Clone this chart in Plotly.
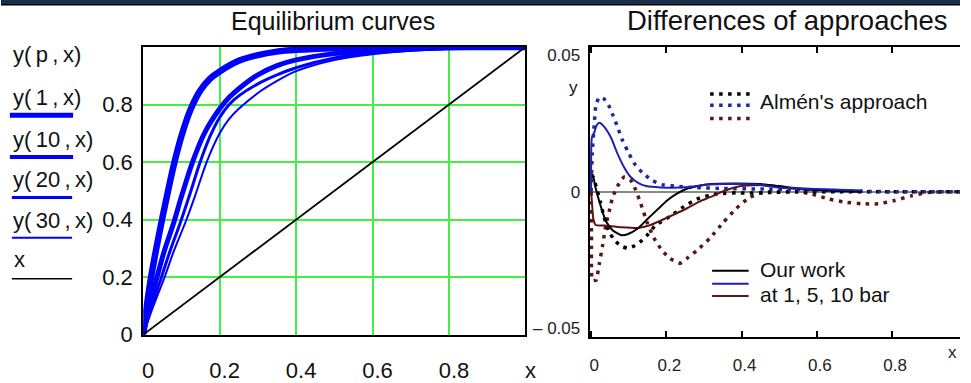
import plotly.graph_objects as go

W, H = 971, 383
def PX(x): return x / W
def PY(y): return 1 - y / H

# ---------------- Left chart data (equilibrium curves) ----------------
x_p1 = [0, 0.01, 0.02, 0.035, 0.05, 0.065, 0.08, 0.1, 0.12, 0.135, 0.15, 0.175, 0.2, 0.25, 0.3, 0.35, 0.4, 0.5, 0.6, 0.8, 1.0]
y_p1 = [0, 0.105, 0.195, 0.305, 0.405, 0.5, 0.59, 0.69, 0.77, 0.815, 0.85, 0.89, 0.915, 0.952, 0.972, 0.984, 0.99, 0.996, 0.998, 1.0, 1.0]
x_p10 = [0, 0.015, 0.034, 0.055, 0.08, 0.1, 0.129, 0.16, 0.2, 0.225, 0.25, 0.3, 0.35, 0.4, 0.5, 0.6, 0.7, 0.85, 1.0]
y_p10 = [0, 0.09, 0.19, 0.29, 0.39, 0.48, 0.6, 0.7, 0.785, 0.825, 0.855, 0.903, 0.935, 0.955, 0.977, 0.988, 0.994, 0.998, 1.0]
x_p20 = [0, 0.02, 0.046, 0.07, 0.097, 0.12, 0.149, 0.175, 0.2, 0.225, 0.25, 0.3, 0.35, 0.4, 0.5, 0.6, 0.7, 0.85, 1.0]
y_p20 = [0, 0.09, 0.193, 0.29, 0.389, 0.48, 0.6, 0.69, 0.755, 0.8, 0.83, 0.872, 0.903, 0.928, 0.962, 0.979, 0.989, 0.997, 1.0]
x_p30 = [0, 0.024, 0.054, 0.08, 0.11, 0.135, 0.166, 0.2, 0.225, 0.25, 0.3, 0.35, 0.4, 0.5, 0.6, 0.7, 0.85, 1.0]
y_p30 = [0, 0.09, 0.193, 0.29, 0.389, 0.48, 0.6, 0.7, 0.75, 0.785, 0.84, 0.882, 0.916, 0.955, 0.975, 0.987, 0.996, 1.0]
x_diag = [0, 1]
y_diag = [0, 1]

left_xticks = [0, 0.2, 0.4, 0.6, 0.8, 1.0]
left_xlabels = ["0", "0.2", "0.4", "0.6", "0.8", "x"]
left_yticks = [0, 0.2, 0.4, 0.6, 0.8, 1.0]
left_ylabels = ["0", "0.2", "0.4", "0.6", "0.8", ""]

# ---------------- Right chart data (differences) ----------------
x_our_black = [0, 0.004, 0.013, 0.026, 0.039, 0.057, 0.079, 0.097, 0.123, 0.149, 0.175, 0.202, 0.228, 0.254, 0.281, 0.32, 0.38, 0.45, 0.5, 0.55, 0.62, 0.72]
y_our_black = [0.006, 0.0063, 0.0008, -0.0055, -0.0107, -0.0141, -0.0159, -0.0156, -0.0136, -0.0101, -0.0067, -0.0032, -0.0007, 0.0011, 0.002, 0.0028, 0.003, 0.0028, 0.002, 0.001, 0.0005, 0.0]
x_our_blue = [0, 0.002, 0.009, 0.015, 0.022, 0.035, 0.053, 0.07, 0.088, 0.105, 0.127, 0.149, 0.184, 0.22, 0.26, 0.3, 0.35, 0.4, 0.45, 0.5, 0.6, 0.72]
y_our_blue = [0.0014, 0.0198, 0.022, 0.0245, 0.0253, 0.0238, 0.0198, 0.014, 0.0089, 0.0054, 0.0031, 0.002, 0.0016, 0.0015, 0.0017, 0.0025, 0.0028, 0.0028, 0.0025, 0.0015, 0.001, 0.0005]
x_our_red = [0, 0.003, 0.006, 0.012, 0.035, 0.079, 0.123, 0.158, 0.202, 0.246, 0.289, 0.316, 0.351, 0.395, 0.465, 0.526, 0.596, 0.715]
y_our_red = [0.0002, -0.0055, -0.0101, -0.0122, -0.0124, -0.013, -0.0133, -0.0122, -0.0095, -0.0067, -0.0035, -0.002, 0.0002, 0.002, 0.0025, 0.0016, 0.0008, 0.0]

x_alm_black = [0, 0.005, 0.013, 0.025, 0.035, 0.048, 0.061, 0.079, 0.097, 0.114, 0.132, 0.149, 0.17, 0.21, 0.246, 0.281, 0.316, 0.351, 0.386, 0.42, 0.47, 0.55, 0.65, 0.8, 1.0]
y_alm_black = [0.005, 0.0055, 0.002, -0.004, -0.0095, -0.0147, -0.0176, -0.0199, -0.0207, -0.0199, -0.0182, -0.0159, -0.0125, -0.009, -0.0055, -0.0027, -0.0012, -0.0006, -0.0004, -0.0005, -0.0003, 0, 0, 0, 0]
x_alm_blue = [0, 0.003, 0.0075, 0.013, 0.022, 0.035, 0.048, 0.057, 0.07, 0.083, 0.097, 0.114, 0.136, 0.162, 0.193, 0.228, 0.28, 0.35, 0.45, 0.55, 0.62, 0.7, 0.8, 0.9, 1.0]
y_alm_blue = [0.0, 0.014, 0.0232, 0.0318, 0.0347, 0.034, 0.0313, 0.0284, 0.0238, 0.019, 0.015, 0.0105, 0.007, 0.0042, 0.0025, 0.002, 0.0015, 0.0012, 0.001, 0.0008, 0.0005, 0.0002, 0, 0, 0]
x_alm_red = [0, 0.001, 0.003, 0.008, 0.013, 0.022, 0.031, 0.039, 0.048, 0.057, 0.07, 0.088, 0.105, 0.118, 0.132, 0.149, 0.167, 0.189, 0.21, 0.237, 0.254, 0.281, 0.316, 0.351, 0.386, 0.421, 0.456, 0.5, 0.55, 0.588, 0.632, 0.675, 0.719, 0.763, 0.807, 0.851, 0.895, 0.95, 1.0]
y_alm_red = [0, -0.016, -0.0325, -0.0325, -0.0325, -0.0262, -0.0193, -0.0124, -0.0072, -0.0021, 0.002, 0.0054, 0.0042, 0.0008, -0.0044, -0.0113, -0.017, -0.0216, -0.0245, -0.0262, -0.0245, -0.0216, -0.017, -0.0113, -0.0061, -0.0021, -0.0003, 0, 0, -0.0009, -0.0027, -0.0038, -0.0044, -0.0044, -0.0032, -0.0015, -0.0003, 0, 0]

right_xticks = [0, 0.2, 0.4, 0.6, 0.8]
right_xlabels = ["0", "0.2", "0.4", "0.6", "0.8"]
right_yticks = [-0.05, 0, 0.05]
right_ylabels = ["\u2013 0.05", "0", "0.05"]

BLUE = "#0000ff"
NAVY = "#2020b0"
NAVY_DOT = "#1a2a9c"
MAROON = "#5c1414"
BLACK = "#000000"
GREEN = "#44ee44"
FONT = "Liberation Sans"
DOT = "3.5px,5.5px"
TS = "\u2009"

fig = go.Figure()

# left curves
for xs, ys, w in [(x_p30, y_p30, 2), (x_p20, y_p20, 3), (x_p10, y_p10, 5), (x_p1, y_p1, 6.5)]:
    fig.add_trace(go.Scatter(x=xs, y=ys, mode="lines", line=dict(color=BLUE, width=w, shape="spline", smoothing=0.8),
                             xaxis="x", yaxis="y", showlegend=False, hoverinfo="skip"))
fig.add_trace(go.Scatter(x=x_diag, y=y_diag, mode="lines", line=dict(color=BLACK, width=1.8),
                         xaxis="x", yaxis="y", showlegend=False, hoverinfo="skip"))

# right curves
for xs, ys, c in [(x_alm_red, y_alm_red, MAROON), (x_alm_black, y_alm_black, BLACK), (x_alm_blue, y_alm_blue, NAVY_DOT)]:
    fig.add_trace(go.Scatter(x=xs, y=ys, mode="lines", line=dict(color=c, width=3.5, dash=DOT, shape="spline", smoothing=0.5),
                             xaxis="x2", yaxis="y2", showlegend=False, hoverinfo="skip"))
for xs, ys, c in [(x_our_red, y_our_red, MAROON), (x_our_black, y_our_black, BLACK), (x_our_blue, y_our_blue, NAVY)]:
    fig.add_trace(go.Scatter(x=xs, y=ys, mode="lines", line=dict(color=c, width=2, shape="spline", smoothing=0.5),
                             xaxis="x2", yaxis="y2", showlegend=False, hoverinfo="skip"))

ydom_l = [PY(356), PY(50)]
fig.update_layout(
    width=W, height=H, autosize=False, margin=dict(l=0, r=0, t=0, b=0, pad=0),
    paper_bgcolor="white", plot_bgcolor="white",
    font=dict(family=FONT, color="#111"),
    xaxis=dict(domain=[PX(144), PX(531)], range=[0, 1], tickvals=left_xticks, ticktext=left_xlabels,
               showgrid=True, gridcolor=GREEN, gridwidth=1.5, zeroline=False,
               showline=True, linecolor=BLACK, linewidth=2, mirror=True, ticks="",
               tickfont=dict(size=22, family=FONT), ticklabelstandoff=15, ticklabelshift=5),
    yaxis=dict(domain=ydom_l, range=[0, 1], tickvals=left_yticks, ticktext=left_ylabels,
               showgrid=True, gridcolor=GREEN, gridwidth=1.5, zeroline=False,
               showline=True, linecolor=BLACK, linewidth=2, mirror=True, ticks="",
               tickfont=dict(size=22, family=FONT), ticklabelstandoff=4),
    xaxis2=dict(domain=[PX(596), 1.0], range=[(596 - 597.5) / 381, (971 - 597.5) / 381],
                tickvals=right_xticks, ticktext=right_xlabels, showgrid=False, zeroline=False,
                showline=True, linecolor=BLACK, linewidth=2, mirror="allticks",
                ticks="inside", ticklen=6, tickwidth=1.5, tickcolor=BLACK,
                tickfont=dict(size=17, family=FONT, color="#222"), ticklabelstandoff=11, ticklabelshift=3,
                anchor="y2"),
    yaxis2=dict(domain=[PY(359), PY(50)], range=[-(359 - 204) / 2900, (204 - 50) / 2900],
                tickvals=right_yticks, ticktext=right_ylabels, showgrid=False,
                zeroline=True, zerolinecolor="#8a8a8a", zerolinewidth=1.5,
                showline=True, linecolor=BLACK, linewidth=2, ticks="",
                tickfont=dict(size=17, family=FONT, color="#222"), ticklabelstandoff=4,
                anchor="x2"),
)

ann = []
def text(x, y, s, size, xanchor="left", color="#111"):
    ann.append(dict(x=PX(x), y=PY(y), xref="paper", yref="paper", text=s, showarrow=False,
                    xanchor=xanchor, yanchor="middle", font=dict(size=size, family=FONT, color=color)))

text(336, 22, "Equilibrium curves", 25, "center")
text(796, 22, "Differences of approaches", 27.5, "center")
# left legend
def yl(a):
    return "y(" + TS + a + TS + "," + TS + "x)"
text(10, 58, yl("p"), 22)
text(10, 104, yl("1"), 22)
text(10, 148, yl("10"), 22)
text(10, 191, yl("20"), 22)
text(10, 235, yl("30"), 22)
text(11, 276, "x", 22)
# right legend / labels
text(766, 108, "Almén's approach", 21)
text(766, 287, "Our work", 21)
text(766, 313, "at 1, 5, 10 bar", 21)
text(580, 93, "y", 17, "center")
text(963, 375, "x", 17, "center", "#222")
fig.update_layout(annotations=ann)

shapes = []
def seg(x0, y0, x1, y1, color, width, dash="solid"):
    shapes.append(dict(type="line", xref="paper", yref="paper", x0=PX(x0), y0=PY(y0), x1=PX(x1), y1=PY(y1),
                       line=dict(color=color, width=width, dash=dash)))
# top band
shapes.append(dict(type="rect", xref="paper", yref="paper", x0=0, x1=1, y0=PY(4.5), y1=1,
                   fillcolor="#182c4c", line=dict(width=0)))
seg(0, 5, W, 5, BLACK, 1.5)
# left legend samples
seg(9, 122.5, 73, 122.5, BLUE, 5)
seg(9, 167, 73, 167, BLUE, 4)
seg(11, 210, 72, 210, BLUE, 3)
seg(11, 253, 72, 253, BLUE, 2)
seg(11, 296.5, 72, 296.5, BLACK, 1.5)
# right legend samples
seg(718, 100, 758, 100, BLACK, 3.5, DOT)
seg(718, 112, 758, 112, NAVY_DOT, 3.5, DOT)
seg(718, 126, 758, 126, MAROON, 3.5, DOT)
seg(720, 288, 757, 288, BLACK, 2)
seg(720, 302, 757, 302, NAVY, 2)
seg(720, 315, 757, 315, MAROON, 2)
fig.update_layout(shapes=shapes)

fig.write_html("out.html", config={"displayModeBar": False, "responsive": False},
               post_script="document.body.style.margin='0px';document.body.style.overflow='hidden';")
